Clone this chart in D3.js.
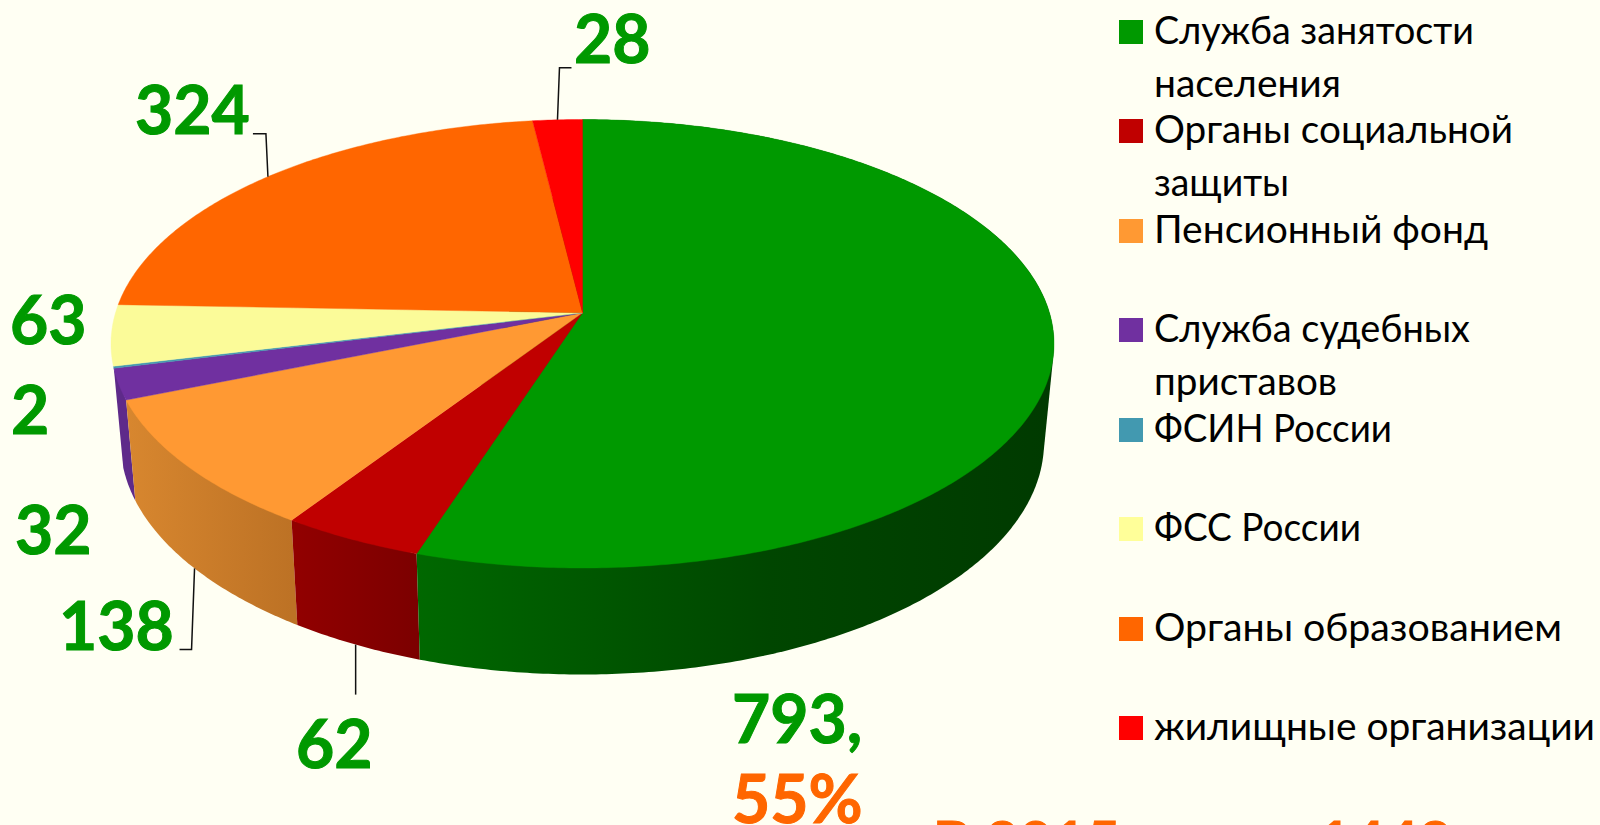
<!DOCTYPE html>
<html><head><meta charset="utf-8">
<script src="https://cdn.jsdelivr.net/npm/d3@7/dist/d3.min.js"></script>
<style>html,body{margin:0;padding:0;background:#FFFFF3;overflow:hidden}svg{display:block}</style>
</head><body><svg id="c" width="1600" height="825"></svg>
<script>
// --- data ---
const categories=["Служба занятости населения","Органы социальной защиты","Пенсионный фонд","Служба судебных приставов","ФСИН России","ФСС России","Органы образованием","жилищные организации"];
const values=[793,62,138,32,2,63,324,28];
const colors=["#009900","#C00000","#FF9933","#7030A0","#4299B0","#FBFB99","#FF6600","#FF0000"];
const legendColors=["#009900","#C00000","#FF9933","#7030A0","#4299B0","#FFFF99","#FF6600","#FF0000"];
const wallStops=[["#006800","#004600","#003A00"],["#920000","#7C0000"],["#D8872F","#BD7225"],["#5E2A8A","#5E2A8A"]];
const legendLines=[["Служба занятости","населения"],["Органы социальной","защиты"],["Пенсионный фонд"],["Служба судебных","приставов"],["ФСИН России"],["ФСС России"],["Органы образованием"],["жилищные организации"]];
const legendWidths=[[320,187],[359,135],[334],[316,183],[238],[207],[408],[441]];
const labelTexts=["793,","62","138","32","2","63","324","28"];
const pctText="55%";
const noteText="В 2015 году – 1442";

// --- layout ---
const FONT='Lato,"Noto Sans",sans-serif';
const GREEN="#009900",ORANGE="#FF6600";
const TILT=-0.138;
const topFace={x:d3.scaleLinear([-1,1],[111,1054]),y:d3.scaleLinear([-1,1],[119.5,568])};
const botFace={x:d3.scaleLinear([-1,1],[120.5,1044]),y:d3.scaleLinear([-1,1],[210,674.5])};
const s=Math.sqrt(1-TILT*TILT);
function project(face,a){
  const u=Math.sin(a),v=-Math.cos(a),w=1+TILT*v;
  return [face.x(u*s/w),face.y((v+TILT)/w)];
}
function arcSamples(a0,a1){
  const n=Math.max(2,Math.ceil((a1-a0)/0.01));
  return d3.range(n+1).map(i=>a0+(a1-a0)*i/n);
}
const svg=d3.select("#c");
svg.append("rect").attr("width",1600).attr("height",825).attr("fill","#FFFFF3");
const defs=svg.append("defs");
const arcs=d3.pie().sort(null).value(d=>d).startAngle(0).endAngle(2*Math.PI)(values);
const line=d3.line();

// walls: only the first four slices face the viewer
const wallRanges=[[417,770,1053],[291,417],[124,291],[113,133]];
const walls=svg.append("g");
[3,2,1,0].forEach(i=>{
  const a=arcs[i],id="w"+i,st=wallStops[i],xr=wallRanges[i];
  const g=defs.append("linearGradient").attr("id",id).attr("gradientUnits","userSpaceOnUse")
    .attr("x1",xr[0]).attr("x2",xr[xr.length-1]).attr("y1",0).attr("y2",0);
  st.forEach((c,k)=>g.append("stop").attr("offset",(xr[k]-xr[0])/(xr[xr.length-1]-xr[0])).attr("stop-color",c));
  const pts=arcSamples(a.startAngle,a.endAngle).flatMap(t=>[project(topFace,t),project(botFace,t)]);
  walls.append("path").attr("d",line(d3.polygonHull(pts))+"Z").attr("fill",`url(#${id})`);
});

// top faces
svg.append("g").selectAll("path").data(arcs).join("path")
  .attr("d",a=>line([[topFace.x(0),topFace.y(TILT)],...arcSamples(a.startAngle,a.endAngle).map(t=>project(topFace,t))])+"Z")
  .attr("fill",(a,i)=>colors[i]).attr("stroke",(a,i)=>colors[i]).attr("stroke-width",0.4);

// leader lines from slice mid-angles
const mid=i=>(arcs[i].startAngle+arcs[i].endAngle)/2;
const leaders=[[1,botFace,[[0,50]]],[2,botFace,[[-3,81],[-15,81]]],[6,topFace,[[-2,-43],[-15,-43]]],[7,topFace,[[2,-52],[14,-52]]]];
svg.append("g").selectAll("path").data(leaders).join("path")
  .attr("d",([i,f,off])=>{const p=project(f,mid(i));return line([p,...off.map(o=>[p[0]+o[0],p[1]+o[1]])]);})
  .attr("fill","none").attr("stroke","#111").attr("stroke-width",1.5);

// value labels
const labelPos=[[732,743],[296,768],[59,650],[15,554],[11,434],[10,344],[135,134],[574,63]];
const lab=svg.append("g").attr("font-family",FONT).attr("font-weight",700).attr("font-size",66)
  .attr("stroke-width",1);
lab.selectAll("text").data(labelTexts).join("text")
  .attr("x",(d,i)=>labelPos[i][0]).attr("y",(d,i)=>labelPos[i][1]).attr("fill",GREEN).attr("stroke",GREEN).text(d=>d);
lab.append("text").attr("x",732).attr("y",823).attr("fill",ORANGE).attr("stroke",ORANGE).text(pctText);
lab.append("text").attr("x",933).attr("y",863).attr("fill",ORANGE).attr("stroke",ORANGE).attr("font-size",58).text(noteText);

// legend
const legendY=[20,119,219,318,418,517,617,716];
const lineGap=53;
const leg=svg.append("g").attr("font-family",FONT).attr("font-size",38).attr("fill","#000");
legendLines.forEach((ls,i)=>{
  leg.append("rect").attr("x",1119).attr("y",legendY[i]).attr("width",24).attr("height",24).attr("fill",legendColors[i]);
  ls.forEach((t,k)=>leg.append("text").attr("x",1154).attr("y",legendY[i]+24+k*lineGap-0.5)
    .attr("textLength",legendWidths[i][k]).attr("lengthAdjust","spacingAndGlyphs").text(t));
});
</script></body></html>
